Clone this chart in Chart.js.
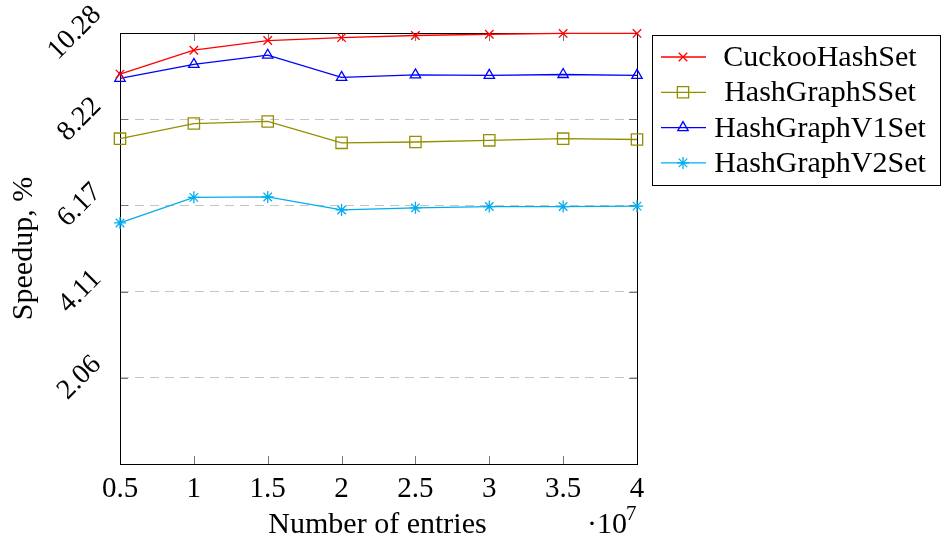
<!DOCTYPE html>
<html>
<head>
<meta charset="utf-8">
<script src="https://cdn.jsdelivr.net/npm/chart.js@4/dist/chart.umd.min.js"></script>
<style>
  html, body { margin: 0; padding: 0; background: #fff; }
  #wrap { width: 941px; height: 541px; }
</style>
</head>
<body>
<div id="wrap"><canvas id="speedup" width="941" height="541"></canvas></div>
<script>
// entries in units of 1e7
const entries = [0.5, 1, 1.5, 2, 2.5, 3, 3.5, 4];
const cuckooHashSet = [9.30, 9.87, 10.10, 10.17, 10.22, 10.25, 10.27, 10.27];
const hashGraphSSet = [7.76, 8.12, 8.17, 7.66, 7.68, 7.72, 7.76, 7.74];
const hashGraphV1Set = [9.20, 9.53, 9.75, 9.22, 9.28, 9.27, 9.29, 9.27];
const hashGraphV2Set = [5.75, 6.36, 6.37, 6.06, 6.11, 6.14, 6.14, 6.15];
const yTicks = [2.06, 4.11, 6.17, 8.22, 10.28];
const xTicks = [0.5, 1, 1.5, 2, 2.5, 3, 3.5, 4];

const SERIF = '"Liberation Serif", "Times New Roman", serif';

function pts(ys){ return entries.map((x, i) => ({ x, y: ys[i] })); }

function series(label, ys, color, style, radius){
  return {
    label, data: pts(ys),
    borderColor: color, backgroundColor: 'rgba(0,0,0,0)',
    borderWidth: 1.3, pointStyle: style, pointRadius: radius,
    pointBorderColor: color, pointBackgroundColor: 'rgba(0,0,0,0)',
    pointBorderWidth: 1.3, tension: 0, clip: false
  };
}

// frame, inner tick marks, rotated y labels, axis titles and the boxed legend
const decor = {
  id: 'decor',
  beforeDatasetsDraw(chart){
    const {ctx, chartArea: a, scales} = chart;
    ctx.save();
    ctx.strokeStyle = '#777';
    ctx.lineWidth = 1;
    ctx.beginPath();
    xTicks.forEach(v => {
      const x = Math.round(scales.x.getPixelForValue(v)) + 0.5;
      ctx.moveTo(x, a.bottom); ctx.lineTo(x, a.bottom - 8);
      ctx.moveTo(x, a.top); ctx.lineTo(x, a.top + 8);
    });
    yTicks.forEach(v => {
      const y = Math.round(scales.y.getPixelForValue(v)) + 0.5;
      ctx.moveTo(a.left, y); ctx.lineTo(a.left + 8, y);
      ctx.moveTo(a.right, y); ctx.lineTo(a.right - 8, y);
    });
    ctx.stroke();
    ctx.strokeStyle = '#000';
    ctx.strokeRect(Math.round(a.left) + 0.5, Math.round(a.top) + 0.5,
      Math.round(a.right - a.left), Math.round(a.bottom - a.top));
    ctx.restore();
  },
  afterDraw(chart){
    const {ctx, chartArea: a, scales} = chart;
    ctx.save();
    ctx.fillStyle = '#000';

    // y tick labels, rotated 45 degrees and centred on their tick
    ctx.font = '28px ' + SERIF;
    ctx.textAlign = 'center';
    ctx.textBaseline = 'middle';
    yTicks.forEach(v => {
      const label = v.toFixed(2);
      const y = scales.y.getPixelForValue(v);
      const w = ctx.measureText(label).width;
      ctx.save();
      ctx.translate(a.left - 23 - w * 0.354, y);
      ctx.rotate(-Math.PI / 4);
      ctx.fillText(label, 0, 0);
      ctx.restore();
    });

    // axis titles
    ctx.font = '30px ' + SERIF;
    ctx.save();
    ctx.translate(24, (a.top + a.bottom) / 2);
    ctx.rotate(-Math.PI / 2);
    ctx.fillText('Speedup, %', 0, 0);
    ctx.restore();

    ctx.textBaseline = 'alphabetic';
    ctx.fillText('Number of entries', (a.left + a.right) / 2 - 1, 533);
    ctx.textAlign = 'left';
    ctx.fillText('\u00b710', 587, 533);
    ctx.font = '21px ' + SERIF;
    ctx.fillText('7', 626, 520);

    // legend
    const box = { x: 652.5, y: 35.5, w: 288, h: 150 };
    ctx.strokeStyle = '#000';
    ctx.lineWidth = 1;
    ctx.strokeRect(box.x, box.y, box.w, box.h);
    ctx.font = '30px ' + SERIF;
    ctx.textAlign = 'center';
    chart.data.datasets.forEach((ds, i) => {
      const rowY = 57 + i * 35.3;
      ctx.strokeStyle = ds.borderColor;
      ctx.lineWidth = ds.borderWidth;
      ctx.beginPath();
      ctx.moveTo(661, rowY); ctx.lineTo(706, rowY);
      ctx.stroke();
      ctx.fillStyle = 'rgba(0,0,0,0)';
      Chart.helpers.drawPoint(ctx, {
        pointStyle: ds.pointStyle, radius: ds.pointRadius,
        rotation: 0, borderWidth: ds.pointBorderWidth
      }, 683, rowY);
      ctx.fillStyle = '#000';
      ctx.fillText(ds.label, 820, rowY + 9);
    });
    ctx.restore();
  }
};

new Chart(document.getElementById('speedup'), {
  type: 'line',
  data: {
    datasets: [
      series('CuckooHashSet', cuckooHashSet, '#ff0000', 'crossRot', 6),
      series('HashGraphSSet', hashGraphSSet, '#948f00', 'rect', 8),
      series('HashGraphV1Set', hashGraphV1Set, '#0000ff', 'triangle', 6),
      series('HashGraphV2Set', hashGraphV2Set, '#00aeef', 'star', 6)
    ]
  },
  options: {
    responsive: false,
    animation: false,
    layout: { padding: { top: 33, right: 304, left: 0, bottom: 0 } },
    plugins: { legend: { display: false }, tooltip: { enabled: false } },
    scales: {
      x: {
        type: 'linear', min: 0.5, max: 4,
        afterBuildTicks(scale){ scale.ticks = xTicks.map(v => ({ value: v })); },
        afterFit(scale){ scale.height = 77; },
        grid: { display: false, drawTicks: false },
        border: { display: false },
        ticks: {
          color: '#000', padding: 8,
          font: { family: SERIF, size: 29 },
          callback: v => String(v)
        }
      },
      y: {
        type: 'linear', min: 0, max: 10.28,
        afterBuildTicks(scale){ scale.ticks = yTicks.map(v => ({ value: v })); },
        afterFit(scale){ scale.width = 120; },
        grid: { color: '#c4c4c4', lineWidth: 1, drawTicks: false },
        border: { display: false, dash: [9, 6] },
        ticks: { display: false }
      }
    }
  },
  plugins: [decor]
});
</script>
</body>
</html>
